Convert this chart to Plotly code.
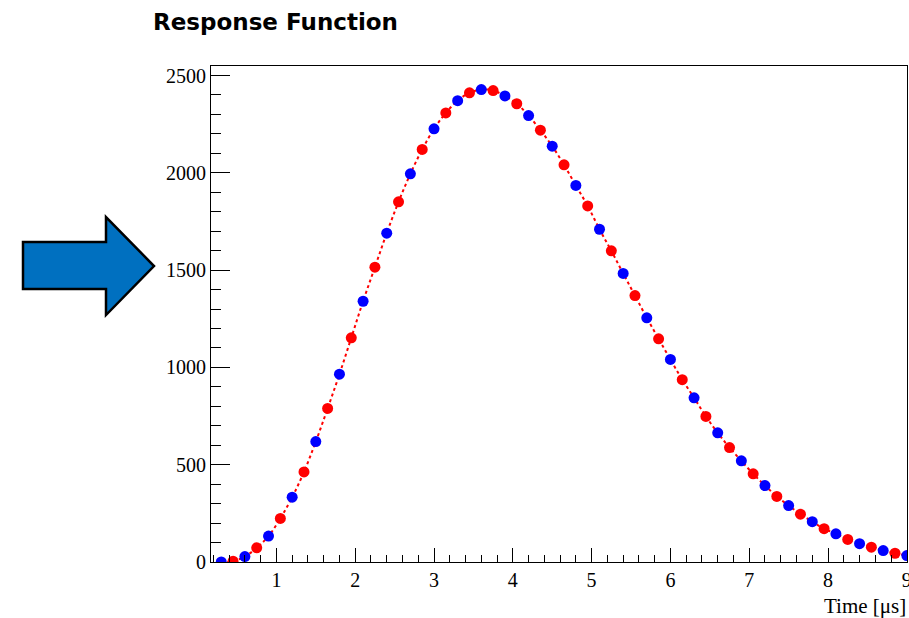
import plotly.graph_objects as go

time_us = [round(0.3 + 0.15 * i, 2) for i in range(59)]
response = [0, 4, 28, 73, 133, 224, 333, 463, 619, 789,
            965, 1152, 1340, 1515, 1690, 1851, 1995, 2120, 2226, 2308,
            2371, 2411, 2428, 2423, 2395, 2355, 2294, 2219, 2137, 2041,
            1935, 1830, 1710, 1599, 1483, 1369, 1255, 1147, 1041, 937,
            844, 748, 664, 588, 520, 453, 393, 337, 290, 246,
            207, 171, 145, 116, 94, 76, 59, 45, 33]

title_text = "Response Function"
x_title = "Time [\u03bcs]"

W, H = 909, 618
L, R, T, B = 211, 907, 66, 562

def px(x):
    return (x - L) / (R - L)

def py(y):
    return (B - y) / (B - T)

fig = go.Figure()
fig.add_trace(go.Scatter(x=time_us, y=response, mode="lines",
                         line=dict(color="#ff0000", width=2, dash="dot", shape="spline"),
                         showlegend=False, hoverinfo="skip"))
fig.add_trace(go.Scatter(x=time_us[0::2], y=response[0::2], mode="markers",
                         marker=dict(color="#0000ff", size=11), showlegend=False))
fig.add_trace(go.Scatter(x=time_us[1::2], y=response[1::2], mode="markers",
                         marker=dict(color="#ff0000", size=11), showlegend=False))

axis_font = dict(family="Liberation Serif", size=20, color="black")
fig.update_xaxes(range=[0.17, 9.002], dtick=1, tick0=0, ticks="inside", ticklen=14,
                 tickcolor="black", showline=True, linecolor="black", linewidth=1,
                 mirror=True, showgrid=False, zeroline=False, tickfont=axis_font,
                 ticklabeloverflow="allow", automargin=False,
                 minor=dict(dtick=0.2, tick0=0, ticks="inside", ticklen=7, tickcolor="black"))
fig.update_yaxes(range=[0, 2549], dtick=500, tick0=0, ticks="inside", ticklen=19,
                 tickcolor="black", showline=True, linecolor="black", linewidth=1,
                 mirror=True, showgrid=False, zeroline=False, tickfont=axis_font,
                 automargin=False,
                 minor=dict(dtick=100, tick0=0, ticks="inside", ticklen=10, tickcolor="black"))

fig.add_annotation(text="<b>" + title_text + "</b>", xref="paper", yref="paper",
                   x=px(151), y=py(22), xanchor="left", yanchor="middle", showarrow=False,
                   font=dict(family="DejaVu Sans", size=23, color="black"))
fig.add_annotation(text=x_title, xref="paper", yref="paper",
                   x=px(908), y=py(606), xanchor="right", yanchor="middle", showarrow=False,
                   font=dict(family="Liberation Serif", size=21, color="black"))

# Big block arrow pointing at the y axis
pts = [(23, 242), (106, 242), (106, 217), (154, 266), (106, 315), (106, 289), (23, 289)]
path = "M " + " L ".join(f"{px(a):.5f},{py(b):.5f}" for a, b in pts) + " Z"
fig.add_shape(type="path", path=path, xref="paper", yref="paper",
              fillcolor="#0070c0", line=dict(color="black", width=2.5), layer="above")

fig.update_layout(width=W, height=H, margin=dict(l=L, r=W - R, t=T, b=H - B),
                  plot_bgcolor="white", paper_bgcolor="white")
fig.write_html("out.html")
